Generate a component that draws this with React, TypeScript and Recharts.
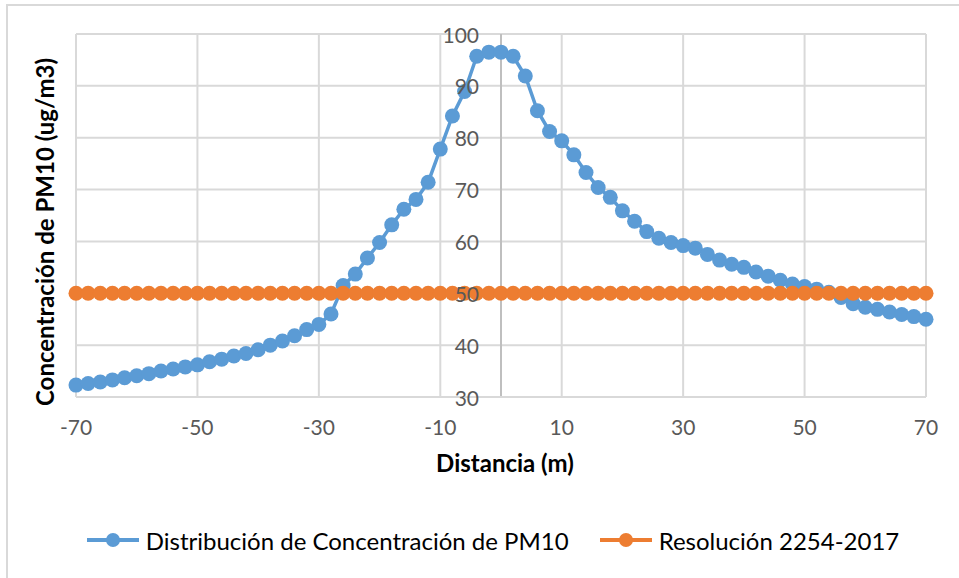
import React from 'react';
import {
  LineChart,
  Line,
  XAxis,
  YAxis,
  CartesianGrid,
  Legend,
  ReferenceLine,
  Label
} from 'recharts';

// distancia (m), cada 2 m
const distancias = [
  -70, -68, -66, -64, -62, -60, -58, -56, -54, -52,
  -50, -48, -46, -44, -42, -40, -38, -36, -34, -32,
  -30, -28, -26, -24, -22, -20, -18, -16, -14, -12,
  -10, -8, -6, -4, -2, 0, 2, 4, 6, 8,
  10, 12, 14, 16, 18, 20, 22, 24, 26, 28,
  30, 32, 34, 36, 38, 40, 42, 44, 46, 48,
  50, 52, 54, 56, 58, 60, 62, 64, 66, 68,
  70
];

// concentración de PM10 (ug/m3)
const concentracion = [
  32.3, 32.6, 32.9, 33.3, 33.7, 34.1, 34.5, 35.0, 35.4, 35.8,
  36.2, 36.8, 37.3, 37.9, 38.4, 39.1, 40.0, 40.8, 41.8, 43.0,
  44.0, 46.0, 51.5, 53.7, 56.8, 59.8, 63.2, 66.2, 68.1, 71.4,
  77.8, 84.2, 88.9, 95.7, 96.5, 96.5, 95.7, 91.9, 85.2, 81.2,
  79.4, 76.7, 73.3, 70.4, 68.5, 65.9, 63.9, 61.9, 60.6, 59.8,
  59.2, 58.7, 57.5, 56.4, 55.6, 55.0, 54.1, 53.3, 52.5, 51.8,
  51.3, 50.8, 50.2, 49.2, 48.0, 47.3, 46.9, 46.4, 45.9, 45.5,
  45.0
];

// límite Resolución 2254-2017
const resolucion = [
  50, 50, 50, 50, 50, 50, 50, 50, 50, 50,
  50, 50, 50, 50, 50, 50, 50, 50, 50, 50,
  50, 50, 50, 50, 50, 50, 50, 50, 50, 50,
  50, 50, 50, 50, 50, 50, 50, 50, 50, 50,
  50, 50, 50, 50, 50, 50, 50, 50, 50, 50,
  50, 50, 50, 50, 50, 50, 50, 50, 50, 50,
  50, 50, 50, 50, 50, 50, 50, 50, 50, 50,
  50
];

const xTicks = [-70, -50, -30, -10, 10, 30, 50, 70];
const yTicks = [30, 40, 50, 60, 70, 80, 90, 100];

const data = distancias.map((d, i) => ({
  distancia: d,
  pm10: concentracion[i],
  norma: resolucion[i]
}));

const BLUE = '#5B9BD5';
const ORANGE = '#ED7D31';
const GRID = '#D9D9D9';
const FONT = 'Lato, "Open Sans", sans-serif';

const YTick = (props: any) => {
  const { y, payload } = props;
  return (
    <text x={479} y={y} textAnchor="end" dominantBaseline="central" fill="#595959" fontSize={21}>
      {payload.value}
    </text>
  );
};

const XTick = (props: any) => {
  const { x, y, payload } = props;
  return (
    <text x={x} y={y + 29} textAnchor="middle" dominantBaseline="central" fill="#595959" fontSize={21}>
      {payload.value}
    </text>
  );
};

const XTitle = () => (
  <text x={505} y={462} textAnchor="middle" dominantBaseline="central" fontSize={24} fontWeight="bold" fill="#000">
    Distancia (m)
  </text>
);

const YTitle = () => (
  <text
    x={44}
    y={232}
    transform="rotate(-90, 44, 232)"
    textAnchor="middle"
    dominantBaseline="central"
    fontSize={24}
    fontWeight="bold"
    fill="#000"
  >
    Concentración de PM10 (ug/m3)
  </text>
);

const LegendIcon = ({ color }: { color: string }) => (
  <svg width={54} height={18}>
    <line x1={1} y1={9} x2={53} y2={9} stroke={color} strokeWidth={4} />
    <circle cx={27} cy={9} r={7} fill={color} />
  </svg>
);

const renderLegend = () => (
  <div
    style={{
      display: 'flex',
      justifyContent: 'center',
      alignItems: 'center',
      height: 50,
      paddingLeft: 59,
      marginTop: -3,
      fontFamily: FONT,
      fontSize: 24,
      color: '#000'
    }}
  >
    <div style={{ display: 'flex', alignItems: 'center', marginRight: 30 }}>
      <LegendIcon color={BLUE} />
      <span style={{ marginLeft: 6 }}>Distribución de Concentración de PM10</span>
    </div>
    <div style={{ display: 'flex', alignItems: 'center' }}>
      <LegendIcon color={ORANGE} />
      <span style={{ marginLeft: 6 }}>Resolución 2254-2017</span>
    </div>
  </div>
);

export default function App() {
  return (
    <div
      style={{
        position: 'absolute',
        left: 0,
        top: 0,
        width: 959,
        height: 578,
        overflow: 'hidden',
        background: '#fff',
        fontFamily: FONT
      }}
    >
      <div
        style={{
          position: 'absolute',
          left: 6,
          top: 4,
          width: 1000,
          height: 1000,
          border: `2px solid ${GRID}`
        }}
      />
      <LineChart
        width={959}
        height={578}
        data={data}
        margin={{ top: 34, right: 33, left: 0, bottom: 10 }}
      >
        <CartesianGrid stroke={GRID} strokeWidth={2} />
        <XAxis
          dataKey="distancia"
          type="number"
          domain={[-70, 70]}
          ticks={xTicks}
          tick={<XTick />}
          tickLine={false}
          tickSize={0}
          tickMargin={0}
          axisLine={{ stroke: GRID, strokeWidth: 2 }}
          height={121}
          interval={0}
        >
          <Label content={<XTitle />} />
        </XAxis>
        <YAxis
          type="number"
          domain={[30, 100]}
          ticks={yTicks}
          tick={<YTick />}
          tickLine={false}
          axisLine={false}
          width={76}
          interval={0}
        >
          <Label content={<YTitle />} />
        </YAxis>
        <ReferenceLine x={0} stroke="#BFBFBF" strokeWidth={2} />
        <Legend verticalAlign="bottom" height={50} content={renderLegend} />
        <Line
          type="linear"
          dataKey="pm10"
          name="Distribución de Concentración de PM10"
          stroke={BLUE}
          strokeWidth={3.5}
          dot={{ r: 7.5, fill: BLUE, stroke: 'none' }}
          isAnimationActive={false}
        />
        <Line
          type="linear"
          dataKey="norma"
          name="Resolución 2254-2017"
          stroke={ORANGE}
          strokeWidth={3.5}
          dot={{ r: 7.5, fill: ORANGE, stroke: 'none' }}
          isAnimationActive={false}
        />
      </LineChart>
    </div>
  );
}
